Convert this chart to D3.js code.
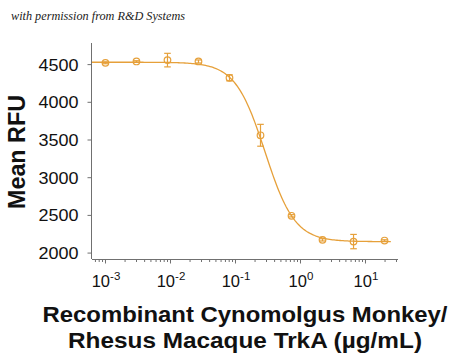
<!DOCTYPE html>
<html>
<head>
<meta charset="utf-8">
<script src="https://cdn.jsdelivr.net/npm/d3@7"></script>
<style>
  html, body { margin: 0; padding: 0; background: #fff; }
  svg { display: block; }
</style>
</head>
<body>
<svg id="chart" width="450" height="357"></svg>
<script>
// ---- data ----
const concentrations = [0.001016, 0.003048, 0.009145, 0.02743, 0.0823, 0.2469, 0.7407, 2.222, 6.667, 20];
const meanRFU        = [4517, 4535, 4553, 4535, 4318, 3556, 2488, 2169, 2146, 2160];
const errorRFU       = [12, 10, 90, 20, 40, 145, 15, 15, 95, 10];
const yTicks = [2000, 2500, 3000, 3500, 4000, 4500];
const xTickExponents = [-3, -2, -1, 0, 1];
// four-parameter logistic fit
const fitTop = 4525, fitBottom = 2145, fitEC50 = 0.29, fitHill = 1.9;
const fitRange = [Math.pow(10, -3.2), 25];
const xTitleLines = ["Recombinant Cynomolgus Monkey/", "Rhesus Macaque TrkA (\u00b5g/mL)"];
const yTitle = "Mean RFU";
const watermark = "with permission from R&D Systems";

const color = "#E6A03A";
const axisColor = "#707070";
const svg = d3.select("#chart");

const x = d3.scaleLog().domain([Math.pow(10, -3.2), Math.pow(10, 1.508)]).range([92, 398]);
const y = d3.scaleLinear().domain([1915, 4780]).range([259, 43]);

// watermark
svg.append("text")
  .attr("x", 11).attr("y", 20)
  .attr("font-family", "Liberation Serif, serif")
  .attr("font-style", "italic")
  .attr("font-size", 12.5)
  .attr("fill", "#222")
  .attr("textLength", 174)
  .attr("lengthAdjust", "spacingAndGlyphs")
  .text(watermark);

// y axis
const yAxis = svg.append("g").attr("transform", "translate(91.5,0)")
  .call(d3.axisLeft(y).tickValues(yTicks).tickSize(4).tickPadding(9).tickFormat(d3.format("d")));
yAxis.select(".domain").attr("stroke", axisColor).attr("d", "M0,43V259");
yAxis.selectAll(".tick line").attr("stroke", axisColor);
yAxis.selectAll(".tick text")
  .attr("font-family", "Liberation Sans, Arial, sans-serif")
  .attr("font-size", 16.5)
  .attr("fill", "#111")
  .attr("dy", "0.36em")
  .attr("textLength", 40)
  .attr("lengthAdjust", "spacingAndGlyphs");

// x axis: major ticks
const majorVals = xTickExponents.map(e => Math.pow(10, e));
const minorVals = [];
for (let e = -4; e <= 1; e++) {
  for (let m = 2; m <= 9; m++) {
    const v = m * Math.pow(10, e);
    if (v >= x.domain()[0] && v <= x.domain()[1]) minorVals.push(v);
  }
}
const xAxisG = svg.append("g").attr("transform", "translate(0,259.5)");
xAxisG.call(d3.axisBottom(x).tickValues(majorVals).tickSize(4).tickFormat(""));
xAxisG.select(".domain").attr("stroke", axisColor).attr("d", "M92,0H398");
xAxisG.selectAll(".tick line").attr("stroke", axisColor);
const minorG = svg.append("g").attr("transform", "translate(0,259.5)");
minorG.call(d3.axisBottom(x).tickValues(minorVals).tickSize(2.5).tickFormat(""));
minorG.select(".domain").remove();
minorG.selectAll(".tick line").attr("stroke", axisColor);

// x tick labels as 10^n
const xl = svg.append("g")
  .attr("font-family", "Liberation Sans, Arial, sans-serif")
  .attr("fill", "#111");
xTickExponents.forEach(e => {
  const t = xl.append("text")
    .attr("x", x(Math.pow(10, e)) + 1)
    .attr("y", 287)
    .attr("text-anchor", "middle")
    .attr("font-size", 16.5);
  t.append("tspan").text("10");
  t.append("tspan").attr("font-size", 11.5).attr("dy", -7.5).text(e < 0 ? "-" + Math.abs(e) : String(e));
});

// axis titles
svg.append("text")
  .attr("transform", "translate(25,152) rotate(-90)")
  .attr("text-anchor", "middle")
  .attr("font-family", "Liberation Sans, Arial, sans-serif")
  .attr("font-weight", "bold")
  .attr("font-size", 23)
  .attr("fill", "#111")
  .attr("textLength", 114)
  .attr("lengthAdjust", "spacingAndGlyphs")
  .text(yTitle);

const titleWidths = [405, 354];
const titleBaselines = [322, 348];
xTitleLines.forEach((line, i) => {
  svg.append("text")
    .attr("x", 245).attr("y", titleBaselines[i])
    .attr("text-anchor", "middle")
    .attr("font-family", "Liberation Sans, Arial, sans-serif")
    .attr("font-weight", "bold")
    .attr("font-size", 22)
    .attr("fill", "#111")
    .attr("textLength", titleWidths[i])
    .attr("lengthAdjust", "spacingAndGlyphs")
    .text(line);
});

// fitted curve
const logistic = c => fitBottom + (fitTop - fitBottom) / (1 + Math.pow(c / fitEC50, fitHill));
const curveX = d3.range(0, 201).map(i => Math.pow(10,
  Math.log10(fitRange[0]) + i / 200 * (Math.log10(fitRange[1]) - Math.log10(fitRange[0]))));
svg.append("path")
  .datum(curveX)
  .attr("fill", "none")
  .attr("stroke", color)
  .attr("stroke-width", 1.3)
  .attr("d", d3.line().x(c => x(c)).y(c => y(logistic(c))));

// data points with error bars
const pts = concentrations.map((c, i) => ({ c, m: meanRFU[i], e: errorRFU[i] }));
const g = svg.append("g").attr("stroke", color).attr("stroke-width", 1.2).attr("fill", "none");
const capW = 3.3;
pts.forEach(p => {
  const cx = x(p.c);
  g.append("line").attr("x1", cx).attr("x2", cx).attr("y1", y(p.m + p.e)).attr("y2", y(p.m - p.e));
  g.append("line").attr("x1", cx - capW).attr("x2", cx + capW).attr("y1", y(p.m + p.e)).attr("y2", y(p.m + p.e));
  g.append("line").attr("x1", cx - capW).attr("x2", cx + capW).attr("y1", y(p.m - p.e)).attr("y2", y(p.m - p.e));
  g.append("circle").attr("cx", cx).attr("cy", y(p.m)).attr("r", 3.3);
});
</script>
</body>
</html>
